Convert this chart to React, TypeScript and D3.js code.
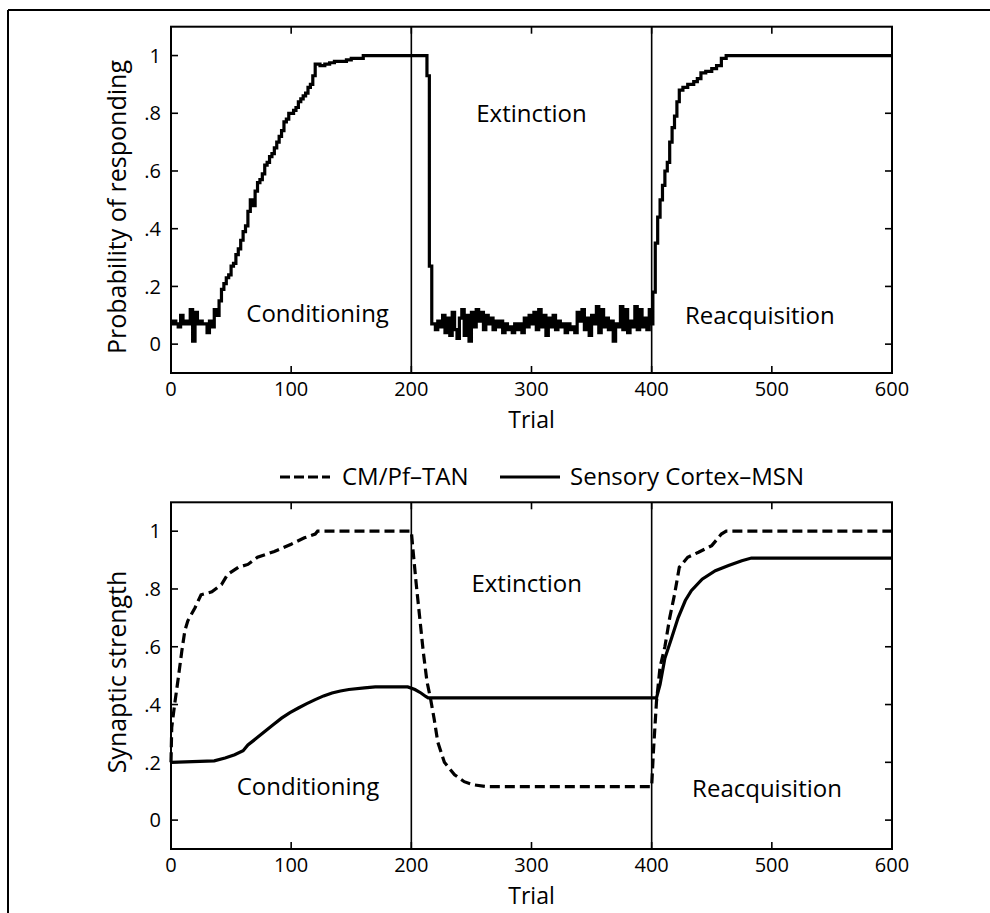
import React from "react";
import * as d3 from "d3";

// ---------- data ----------
const xTicks = [0, 100, 200, 300, 400, 500, 600];
const yTicks = [0, 0.2, 0.4, 0.6, 0.8, 1];
const yTickLabels = ["0", ".2", ".4", ".6", ".8", "1"];
const phaseBounds = [200, 400];
const phaseNames = ["Conditioning", "Extinction", "Reacquisition"];
const seriesNames = ["CM/Pf\u2013TAN", "Sensory Cortex\u2013MSN"];

// Probability of responding (top panel)
const respTrials = [
  0, 2, 4, 6, 8, 10, 12, 14, 16, 18, 20, 22, 24, 26, 28, 30, 32, 34, 36, 38,
  40, 42, 44, 46, 48, 50, 52, 54, 56, 58, 60, 62, 64, 66, 68, 70, 72, 74, 76, 78,
  80, 82, 84, 86, 88, 90, 92, 94, 96, 98, 100, 102, 104, 106, 108, 110, 112, 114, 116, 118,
  120, 124, 128, 132, 136, 140, 146, 150, 156, 160, 212, 213, 215, 217,
  218, 220, 222, 224, 226, 228, 230, 232, 234, 236, 238, 240, 242, 244, 246, 248, 250, 252, 254, 256,
  258, 260, 262, 264, 266, 268, 270, 272, 274, 276, 278, 280, 282, 284, 286, 288, 290, 292, 294, 296,
  298, 300, 302, 304, 306, 308, 310, 312, 314, 316, 318, 320, 322, 324, 326, 328, 330, 332, 334, 336,
  338, 340, 342, 344, 346, 348, 350, 352, 354, 356, 358, 360, 362, 364, 366, 368, 370, 372, 374, 376,
  378, 380, 382, 384, 386, 388, 390, 392, 394, 396, 398, 400,
  401, 403, 405, 407, 409, 411, 413, 415, 417, 419, 421, 423, 426, 430, 435, 438, 441, 445, 450, 454,
  458, 462, 600,
];
const respProb = [
  0.07, 0.08, 0.07, 0.06, 0.1, 0.07, 0.08, 0.07, 0.12, 0.01, 0.11, 0.07, 0.08, 0.07, 0.07, 0.04, 0.08, 0.06, 0.12, 0.1,
  0.15, 0.19, 0.21, 0.23, 0.24, 0.27, 0.28, 0.31, 0.33, 0.36, 0.39, 0.41, 0.46, 0.5, 0.48, 0.53, 0.56, 0.57, 0.59, 0.62,
  0.63, 0.65, 0.66, 0.68, 0.7, 0.72, 0.74, 0.77, 0.78, 0.8, 0.8, 0.81, 0.82, 0.84, 0.85, 0.86, 0.87, 0.89, 0.9, 0.93,
  0.97, 0.965, 0.97, 0.975, 0.98, 0.98, 0.985, 0.99, 0.99, 1.0, 1.0, 0.93, 0.27, 0.07,
  0.07, 0.05, 0.08, 0.06, 0.1, 0.04, 0.09, 0.03, 0.11, 0.05, 0.02, 0.09, 0.12, 0.03, 0.1, 0.01, 0.11, 0.06, 0.12, 0.08,
  0.11, 0.05, 0.1, 0.07, 0.09, 0.05, 0.08, 0.06, 0.08, 0.04, 0.07, 0.05, 0.06, 0.04, 0.07, 0.05, 0.07, 0.04, 0.09, 0.06,
  0.1, 0.07, 0.11, 0.05, 0.12, 0.06, 0.1, 0.03, 0.09, 0.06, 0.1, 0.05, 0.08, 0.06, 0.07, 0.04, 0.07, 0.05, 0.06, 0.04,
  0.11, 0.08, 0.12, 0.05, 0.09, 0.03, 0.1, 0.07, 0.13, 0.04, 0.12, 0.06, 0.09, 0.05, 0.08, 0.01, 0.07, 0.06, 0.13, 0.05,
  0.12, 0.04, 0.08, 0.06, 0.13, 0.05, 0.12, 0.06, 0.09, 0.05, 0.12, 0.07,
  0.18, 0.35, 0.44, 0.5, 0.55, 0.6, 0.63, 0.7, 0.75, 0.79, 0.84, 0.88, 0.89, 0.9, 0.91, 0.92, 0.94, 0.945, 0.955, 0.965,
  0.99, 1.0, 1.0,
];

// Synaptic strength (bottom panel): CM/Pf-TAN (dashed)
const tanTrials = [
  0, 0.6, 3, 6, 9, 11.5, 14, 20, 25, 34, 42, 47, 56, 64, 72, 86, 100, 111, 120, 122,
  200, 201.5, 204, 207, 210, 213, 216, 219, 222, 227.5, 236, 244, 252, 263, 400,
  401.5, 404, 407, 411, 415, 419, 423, 430, 439, 450, 458, 462, 600,
];
const tanStrength = [
  0.2, 0.32, 0.4, 0.49, 0.585, 0.655, 0.69, 0.735, 0.78, 0.79, 0.815, 0.85, 0.875, 0.885, 0.91, 0.93, 0.955, 0.977, 0.99, 1.0,
  1.0, 0.93, 0.82, 0.7, 0.58, 0.48, 0.42, 0.35, 0.27, 0.2, 0.157, 0.133, 0.122, 0.116, 0.116,
  0.24, 0.41, 0.53, 0.6, 0.7, 0.78, 0.875, 0.91, 0.927, 0.95, 0.99, 1.0, 1.0,
];

// Sensory Cortex-MSN (solid)
const msnTrials = [
  0, 36, 45, 53, 60, 64, 71, 78, 85, 92, 99, 106, 113, 120, 127, 134, 141, 148, 161, 170,
  197, 203, 208, 212, 214, 404, 407, 411, 416.6, 422, 428, 433, 442, 453, 464, 475, 483, 600,
];
const msnStrength = [
  0.2, 0.205, 0.215, 0.226, 0.24, 0.26, 0.283, 0.307, 0.33, 0.353, 0.372, 0.388, 0.403, 0.417, 0.43, 0.44, 0.447, 0.452, 0.458, 0.461,
  0.461, 0.452, 0.44, 0.428, 0.423, 0.423, 0.47, 0.56, 0.63, 0.7, 0.76, 0.794, 0.834, 0.863, 0.881, 0.898, 0.907, 0.907,
];

// ---------- layout ----------
const W = 990;
const H = 913;
const FONT = "'Open Sans', 'Noto Sans', sans-serif";
const xLeft = 171;
const xRight = 892;

type PanelProps = {
  top: number;
  bottom: number;
  yLabel: string;
  yLabelY: number;
  labels: { name: string; t: number; v: number }[];
  children: (x: d3.ScaleLinear<number, number>, y: d3.ScaleLinear<number, number>) => React.ReactNode;
};

function Panel({ top, bottom, yLabel, yLabelY, labels, children }: PanelProps) {
  const x = d3.scaleLinear().domain([0, 600]).range([xLeft, xRight]);
  const y = d3.scaleLinear().domain([-0.1, 1.1]).range([bottom, top]);
  const tl = 7;
  return (
    <g>
      {/* vertical phase boundaries */}
      {phaseBounds.map((b) => (
        <line key={b} x1={x(b)} x2={x(b)} y1={top} y2={bottom} stroke="#000" strokeWidth={1.6} />
      ))}
      {children(x, y)}
      {/* frame */}
      <rect x={xLeft} y={top} width={xRight - xLeft} height={bottom - top} fill="none" stroke="#000" strokeWidth={2} />
      {/* x ticks (inward, bottom & top) */}
      {xTicks.map((t) => (
        <g key={"x" + t}>
          <line x1={x(t)} x2={x(t)} y1={bottom} y2={bottom - tl} stroke="#000" strokeWidth={1.6} />
          <line x1={x(t)} x2={x(t)} y1={top} y2={top + tl} stroke="#000" strokeWidth={1.6} />
          <text x={x(t)} y={bottom + 23} textAnchor="middle" fontSize={20} fontFamily={FONT}>
            {t}
          </text>
        </g>
      ))}
      {/* y ticks (inward, left & right) */}
      {yTicks.map((v, i) => (
        <g key={"y" + v}>
          <line x1={xLeft} x2={xLeft + tl} y1={y(v)} y2={y(v)} stroke="#000" strokeWidth={1.6} />
          <line x1={xRight} x2={xRight - tl} y1={y(v)} y2={y(v)} stroke="#000" strokeWidth={1.6} />
          <text x={161} y={y(v)} dy="0.36em" textAnchor="end" fontSize={20} fontFamily={FONT}>
            {yTickLabels[i]}
          </text>
        </g>
      ))}
      {/* axis titles */}
      <text x={xLeft + (xRight - xLeft) / 2} y={bottom + 55} textAnchor="middle" fontSize={23} fontFamily={FONT}>
        Trial
      </text>
      <text
        transform={`translate(126,${yLabelY}) rotate(-90)`}
        textAnchor="middle"
        fontSize={25}
        fontFamily={FONT}
      >
        {yLabel}
      </text>
      {/* phase labels */}
      {labels.map((l) => (
        <text key={l.name} x={x(l.t)} y={y(l.v)} textAnchor="middle" fontSize={24} fontFamily={FONT}>
          {l.name}
        </text>
      ))}
    </g>
  );
}

export default function App() {
  const mk = (xs: number[], ys: number[]) => xs.map((t, i) => [t, ys[i]] as [number, number]);
  const resp = mk(respTrials, respProb);
  const tan = mk(tanTrials, tanStrength);
  const msn = mk(msnTrials, msnStrength);

  return (
    <svg
      width={W}
      height={H}
      style={{ position: "absolute", left: 0, top: 0, display: "block", background: "#fff" }}
    >
      <rect x={0} y={0} width={W} height={H} fill="#fff" />
      {/* outer frame */}
      <line x1={8} x2={W} y1={10} y2={10} stroke="#000" strokeWidth={2} />
      <line x1={8} x2={8} y1={10} y2={H} stroke="#000" strokeWidth={2} />

      <Panel
        top={26.7}
        bottom={373}
        yLabel="Probability of responding"
        yLabelY={207}
        labels={[
          { name: phaseNames[0], t: 122, v: 0.075 },
          { name: phaseNames[1], t: 300, v: 0.77 },
          { name: phaseNames[2], t: 490, v: 0.07 },
        ]}
      >
        {(x, y) => {
          const line = d3
            .line<[number, number]>()
            .x((d) => x(d[0]))
            .y((d) => y(d[1]))
            .curve(d3.curveStepAfter);
          return <path d={line(resp) || ""} fill="none" stroke="#000" strokeWidth={3.2} strokeLinejoin="miter" />;
        }}
      </Panel>

      {/* legend */}
      <g>
        <line x1={280} x2={330} y1={477} y2={477} stroke="#000" strokeWidth={3.2} strokeDasharray="10,4" />
        <text x={342} y={485} fontSize={24} fontFamily={FONT}>
          {seriesNames[0]}
        </text>
        <line x1={500} x2={560} y1={477} y2={477} stroke="#000" strokeWidth={3.2} />
        <text x={570} y={485} fontSize={24} fontFamily={FONT}>
          {seriesNames[1]}
        </text>
      </g>

      <Panel
        top={502.3}
        bottom={849}
        yLabel="Synaptic strength"
        yLabelY={672}
        labels={[
          { name: phaseNames[0], t: 114, v: 0.087 },
          { name: phaseNames[1], t: 296, v: 0.788 },
          { name: phaseNames[2], t: 496, v: 0.081 },
        ]}
      >
        {(x, y) => {
          const line = d3
            .line<[number, number]>()
            .x((d) => x(d[0]))
            .y((d) => y(d[1]));
          return (
            <g>
              <path d={line(msn) || ""} fill="none" stroke="#000" strokeWidth={3.2} />
              <path d={line(tan) || ""} fill="none" stroke="#000" strokeWidth={3.2} strokeDasharray="10,5" />
            </g>
          );
        }}
      </Panel>
    </svg>
  );
}
